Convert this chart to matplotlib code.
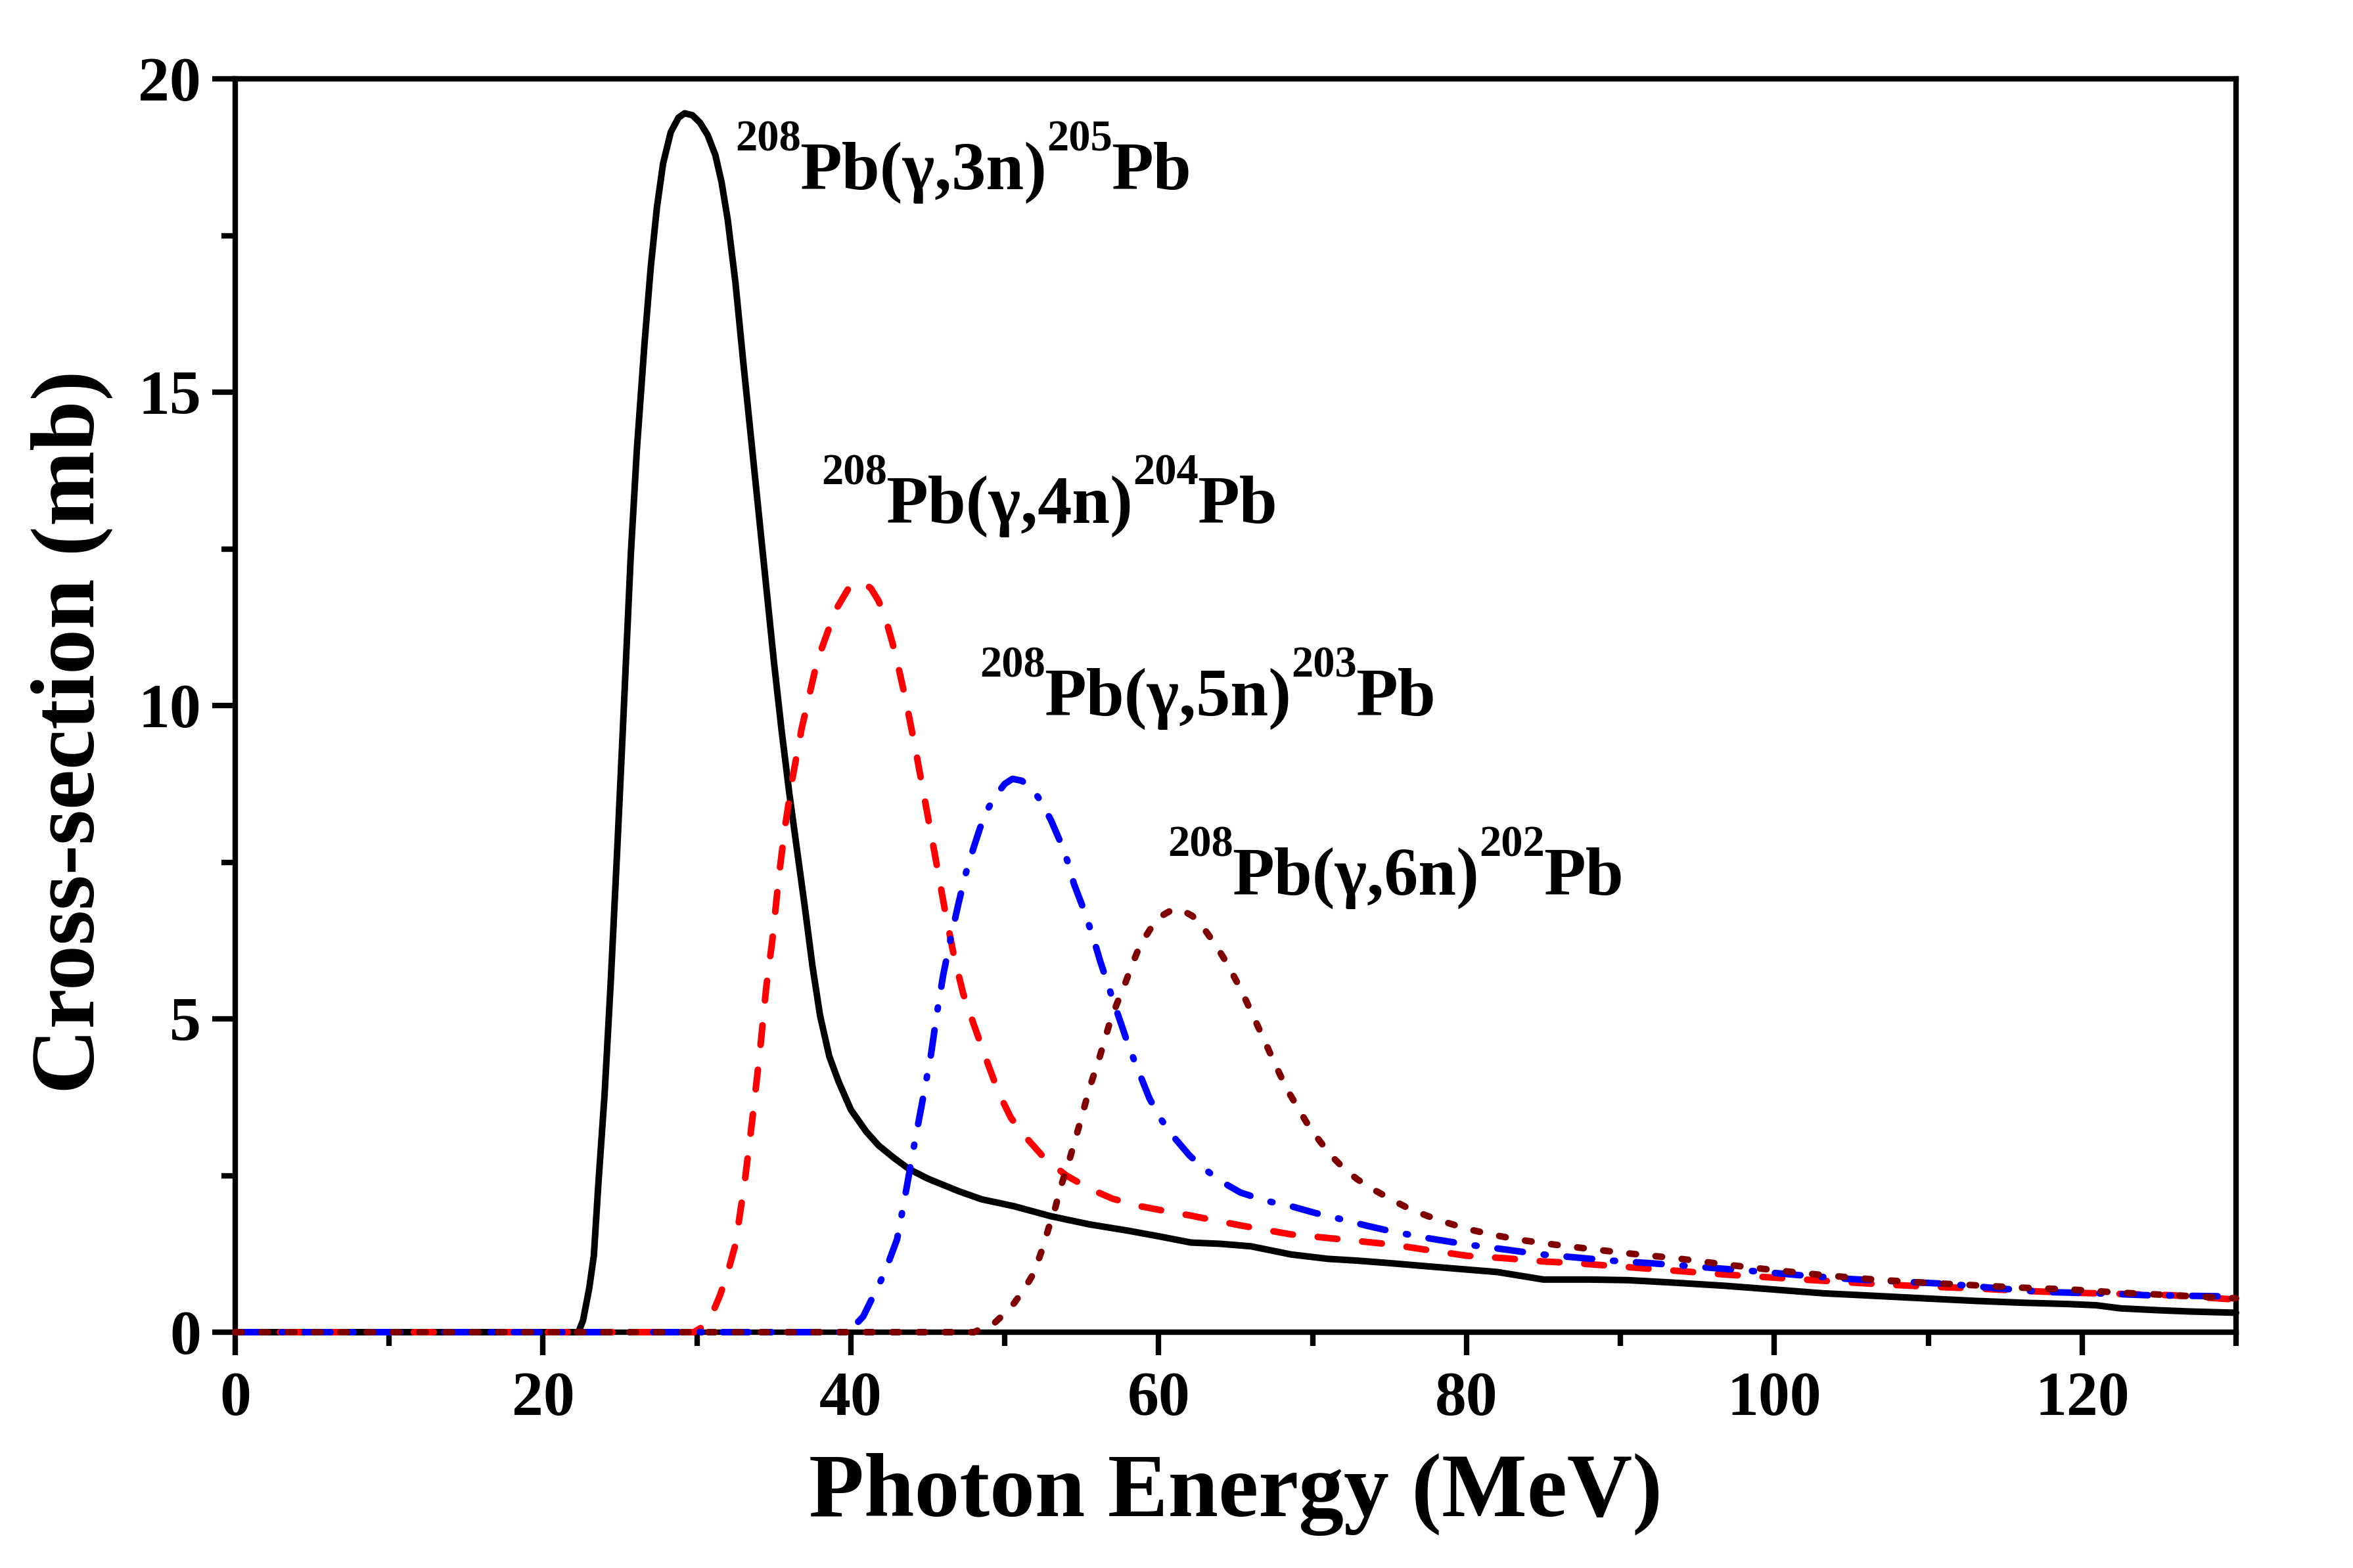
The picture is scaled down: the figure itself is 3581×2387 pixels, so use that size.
import matplotlib
matplotlib.use("Agg")
import matplotlib.pyplot as plt
from matplotlib.ticker import MultipleLocator

plt.rcParams['font.family'] = ['Liberation Serif', 'DejaVu Serif']
plt.rcParams['font.weight'] = 'bold'

# ---------------- data ----------------
E_3n = [0, 22.3, 22.6, 23.0, 23.3, 23.6, 24.0, 24.4, 24.8, 25.2, 25.7, 26.1, 26.6,
        27.0, 27.4, 27.8, 28.3, 28.8, 29.2, 29.7, 30.2, 30.7, 31.2, 31.6, 32.0,
        32.5, 33.0, 33.5, 34.0, 34.5, 35.0, 35.5, 36.0, 36.5, 37.0, 37.5, 38.0,
        38.6, 39.2, 40.0, 41.0, 41.8, 42.8, 43.8, 45.0, 46.0, 47.0, 48.5, 50.6,
        53.0, 55.5, 58.0, 60.0, 62.1, 64.0, 66.0, 68.6, 71.0, 73.0, 75.1, 77.5,
        80.0, 82.0, 83.5, 85.0, 88.0, 90.5, 93.5, 96.8, 100.0, 103.2, 106.5,
        109.7, 113.0, 116.1, 119.0, 120.9, 122.5, 125.0, 127.0, 130.0]
S_3n = [0, 0, 0.19, 0.7, 1.22, 2.39, 3.8, 5.6, 7.6, 9.7, 12.4, 14.1, 15.8,
        17.0, 17.95, 18.65, 19.15, 19.38, 19.45, 19.42, 19.3, 19.1, 18.78, 18.35, 17.75,
        16.75, 15.5, 14.3, 13.1, 11.9, 10.7, 9.6, 8.6, 7.7, 6.8, 5.85, 5.05,
        4.4, 4.0, 3.55, 3.2, 2.98, 2.78, 2.6, 2.45, 2.35, 2.25, 2.12, 2.01,
        1.85, 1.72, 1.62, 1.53, 1.43, 1.41, 1.37, 1.24, 1.17, 1.14, 1.10, 1.05,
        1.0, 0.96, 0.9, 0.84, 0.84, 0.83, 0.79, 0.74, 0.68, 0.62, 0.58,
        0.54, 0.50, 0.47, 0.45, 0.43, 0.38, 0.35, 0.33, 0.31]

E_4n = [0, 29.8, 30.4, 31.0, 31.5, 32.0, 32.5, 33.1, 33.6, 34.1, 34.5, 34.9,
        35.3, 35.7, 36.2, 36.8, 37.4, 37.8, 38.5, 39.1, 39.8, 40.3, 40.8, 41.3,
        41.8, 42.3, 42.7, 43.1, 43.6, 44.2, 44.8, 45.4, 46.1, 46.7, 47.3, 48.0,
        48.8, 49.6, 50.4, 51.3, 52.6, 54.0, 55.5, 57.0, 58.8, 60.5, 62.1, 63.7,
        65.4, 67.0, 68.6, 70.3, 71.9, 73.5, 75.1, 77.5, 80.0, 82.5, 84.9, 87.2,
        90.4, 93.6, 96.8, 100.0, 103.2, 106.5, 109.7, 112.9, 116.1, 119.3, 122.5,
        125.8, 130.0]
S_4n = [0, 0, 0.09, 0.3, 0.59, 0.95, 1.40, 2.39, 3.4, 4.5, 5.5, 6.26,
        7.22, 8.03, 8.83, 9.63, 10.27, 10.7, 11.18, 11.56, 11.85, 11.95, 11.96, 11.87,
        11.67, 11.35, 11.0, 10.6, 10.05, 9.3, 8.5, 7.7, 6.75, 6.0, 5.4, 4.9,
        4.35, 3.82, 3.42, 3.13, 2.77, 2.5, 2.29, 2.13, 2.01, 1.93, 1.86, 1.78,
        1.70, 1.63, 1.56, 1.52, 1.48, 1.44, 1.40, 1.31, 1.22, 1.18, 1.13, 1.10,
        1.04, 0.98, 0.92, 0.87, 0.82, 0.77, 0.73, 0.70, 0.66, 0.63, 0.61,
        0.59, 0.52]

E_5n = [0, 39.7, 40.3, 40.8, 41.4, 42.0, 42.5, 43.0, 43.4, 43.8, 44.2, 44.6,
        45.2, 45.6, 46.0, 46.5, 47.0, 47.5, 48.0, 48.4, 48.9, 49.4, 50.0, 50.5,
        51.1, 51.8, 52.4, 53.0, 53.6, 54.1, 54.5, 55.2, 55.8, 56.2, 57.1, 58.1,
        59.4, 60.2, 61.1, 62.0, 63.0, 64.1, 65.3, 66.9, 68.6, 70.2, 71.9, 73.5,
        75.1, 77.5, 80.0, 82.5, 84.9, 87.2, 89.5, 92.0, 95.2, 98.4, 101.6, 104.8,
        108.0, 111.3, 114.5, 117.7, 121.0, 124.2, 127.0, 130.0]
S_5n = [0, 0, 0.12, 0.25, 0.55, 0.85, 1.15, 1.48, 2.0, 2.55, 3.1, 3.62,
        4.42, 5.1, 5.7, 6.3, 6.85, 7.35, 7.75, 8.05, 8.35, 8.56, 8.75, 8.83,
        8.8, 8.67, 8.45, 8.17, 7.83, 7.5, 7.15, 6.7, 6.25, 5.92, 5.25, 4.53,
        3.73, 3.38, 3.08, 2.82, 2.6, 2.4, 2.23, 2.1, 2.01, 1.9, 1.8, 1.7,
        1.61, 1.5, 1.4, 1.32, 1.24, 1.19, 1.14, 1.1, 1.04, 0.98, 0.91, 0.85,
        0.81, 0.77, 0.70, 0.64, 0.62, 0.59, 0.58, 0.57]

E_6n = [0, 48.0, 48.7, 49.3, 50.0, 50.6, 51.3, 51.9, 52.4, 52.9, 53.3, 53.6,
        54.2, 54.9, 55.5, 56.2, 56.8, 57.3, 57.8, 58.3, 58.8, 59.5, 60.1, 60.8,
        61.4, 62.2, 63.0, 63.7, 64.4, 65.3, 66.3, 67.3, 68.3, 69.6, 70.4, 71.2,
        72.0, 72.9, 74.0, 75.1, 76.2, 77.4, 78.7, 80.0, 81.6, 83.3, 85.0, 86.6,
        90.4, 93.6, 96.8, 100.0, 103.2, 106.5, 109.7, 112.9, 116.1, 119.3, 122.5,
        125.8, 130.0]
S_6n = [0, 0, 0.08, 0.14, 0.3, 0.46, 0.7, 0.95, 1.3, 1.70, 2.0, 2.29,
        2.75, 3.35, 3.89, 4.42, 4.92, 5.25, 5.55, 5.88, 6.18, 6.45, 6.63, 6.73,
        6.75, 6.64, 6.42, 6.18, 5.9, 5.49, 4.96, 4.42, 3.89, 3.35, 3.07, 2.82,
        2.62, 2.44, 2.27, 2.12, 1.98, 1.86, 1.75, 1.65, 1.56, 1.48, 1.42, 1.37,
        1.26, 1.18, 1.08, 0.99, 0.91, 0.84, 0.79, 0.75, 0.71, 0.68, 0.63,
        0.59, 0.54]

# reaction labels: (target mass, reaction, product mass, product)
label_parts = [("208", "Pb(γ,3n)", "205", "Pb"),
               ("208", "Pb(γ,4n)", "204", "Pb"),
               ("208", "Pb(γ,5n)", "203", "Pb"),
               ("208", "Pb(γ,6n)", "202", "Pb")]
label_x = [32.5, 38.1, 48.4, 60.6]
label_y = [18.24, 12.92, 9.84, 6.98]

xticks = [0, 20, 40, 60, 80, 100, 120]
yticks = [0, 5, 10, 15, 20]

# ---------------- figure ----------------
DPI = 300
fig = plt.figure(figsize=(3581 / DPI, 2387 / DPI), dpi=DPI)
ax = fig.add_axes([358 / 3581, 1 - 2028 / 2387, (3403 - 358) / 3581, (2028 - 120) / 2387])

ax.plot(E_3n, S_3n, color='black', lw=2.4, solid_capstyle='round',
        solid_joinstyle='round', zorder=3, clip_on=False)
ax.plot(E_4n, S_4n, color='#ff0000', lw=2.4, dashes=(3.0, 3.8),
        dash_capstyle='round', dash_joinstyle='round', zorder=3, clip_on=False)
ax.plot(E_5n, S_5n, color='#0000ff', lw=2.4, dashes=(3.9, 3.2, 0.3, 3.2),
        dash_capstyle='round', dash_joinstyle='round', zorder=3, clip_on=False)
ax.plot(E_6n, S_6n, color='#800000', lw=2.4, dashes=(1.0, 3.0),
        dash_capstyle='round', dash_joinstyle='round', zorder=3, clip_on=False)

ax.set_xlim(0, 130)
ax.set_ylim(0, 20)
ax.set_xticks(xticks)
ax.set_yticks(yticks)
ax.xaxis.set_minor_locator(MultipleLocator(10))
ax.yaxis.set_minor_locator(MultipleLocator(2.5))

for s in ax.spines.values():
    s.set_linewidth(2.0)
    s.set_zorder(2.5)

ax.tick_params(which='major', direction='out', length=8.5, width=2.0,
               labelsize=23, top=False, right=False)
ax.tick_params(which='minor', direction='out', length=5.0, width=2.0,
               top=False, right=False)
ax.tick_params(axis='x', which='major', pad=6)
ax.tick_params(axis='y', which='major', pad=4)
for lab in ax.get_xticklabels() + ax.get_yticklabels():
    lab.set_fontweight('bold')

ax.set_xlabel('Photon Energy (MeV)', fontsize=33, fontweight='bold', labelpad=9)
ax.set_ylabel('Cross-section (mb)', fontsize=33, fontweight='bold')
ax.yaxis.set_label_coords(-0.061, 0.479)

# labels built from pieces: superscripts smaller and raised
MAIN_FS = 25
SUP_FS = 16
SUP_RISE = 14.0  # points
renderer = fig.canvas.get_renderer()
for parts, x, y in zip(label_parts, label_x, label_y):
    off = 0.0
    for i, piece in enumerate(parts):
        sup = (i % 2 == 0)
        t = ax.annotate(piece, xy=(x, y), xycoords='data',
                        xytext=(off, SUP_RISE if sup else 0.0),
                        textcoords='offset points',
                        fontsize=SUP_FS if sup else MAIN_FS, fontweight='bold',
                        ha='left', va='baseline')
        w = t.get_window_extent(renderer).width * 72.0 / DPI
        off += w - (0.5 if sup else 0.0)

fig.savefig('out.png', dpi=DPI)
